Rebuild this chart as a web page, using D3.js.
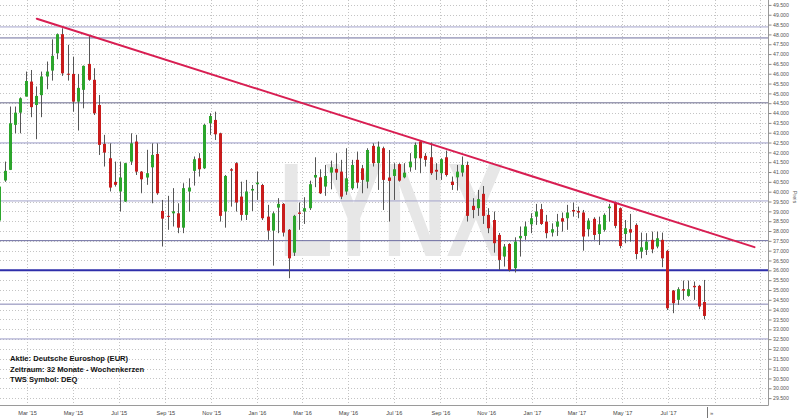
<!DOCTYPE html>
<html><head><meta charset="utf-8">
<script src="https://cdn.jsdelivr.net/npm/d3@7"></script>
<style>body{margin:0;background:#fff}svg{display:block}text{font-family:"Liberation Sans",Arial,sans-serif}</style>
</head><body><svg id="c" width="800" height="420"></svg>
<script>
// ---- data: weekly candles Deutsche Euroshop ----
const firstWeek = "2015-01-23";
const open  = [38.53,40.57,41.11,43.40,44.02,44.84,45.60,44.41,44.91,45.86,46.16,47.04,48.01,46.00,45.99,44.58,45.18,46.50,45.69,44.41,42.43,41.70,40.50,40.01,39.50,41.53,42.55,41.02,40.72,41.24,41.92,39.02,38.77,38.90,38.90,38.17,40.01,41.06,41.70,41.19,43.48,43.65,42.97,38.99,41.14,41.45,39.75,38.82,40.06,40.38,40.34,38.73,38.02,39.19,39.38,38.06,36.90,38.94,38.99,39.16,40.72,40.73,40.26,40.97,41.16,41.02,40.01,40.17,41.62,41.19,40.51,42.33,41.45,42.21,40.72,40.80,41.40,40.73,41.24,41.70,42.55,41.82,41.75,41.11,40.94,41.75,40.51,40.73,40.97,41.36,39.28,39.16,39.89,38.82,38.56,37.80,36.70,37.34,36.11,37.63,37.75,38.34,38.73,39.11,38.48,37.92,38.22,38.65,38.65,39.07,39.02,38.94,38.09,38.62,37.85,38.06,39.16,39.45,39.16,37.85,38.09,38.31,36.95,37.04,37.55,37.21,37.55,36.99,34.97,34.50,35.04,34.70,35.21,35.21,34.39];
const high  = [40.40,41.53,44.33,44.33,44.80,46.11,46.19,45.35,46.11,46.62,47.75,48.05,48.31,47.47,46.87,45.99,46.42,47.92,46.28,44.92,42.89,42.46,41.53,41.53,41.47,42.97,42.89,41.05,42.13,42.46,42.46,39.58,39.79,40.18,39.41,40.43,40.68,41.79,41.96,43.45,43.99,44.07,43.00,40.85,41.20,41.50,40.51,40.60,40.34,41.02,40.40,39.33,38.99,39.67,39.42,38.10,38.82,39.45,39.72,40.56,41.75,41.14,41.36,41.58,41.96,41.62,42.21,41.62,42.04,41.36,42.21,42.46,42.55,42.29,42.12,41.45,41.45,41.45,41.96,42.50,42.60,41.96,42.50,41.45,41.70,42.09,40.77,41.36,41.79,41.53,39.67,40.09,40.29,39.16,38.99,37.90,37.34,37.38,37.68,38.23,38.48,38.90,39.38,39.38,38.82,38.39,38.87,38.94,39.33,39.45,39.24,39.07,38.65,38.70,38.73,38.90,39.38,39.50,39.20,38.56,38.87,38.39,37.92,37.89,37.97,37.97,37.92,37.04,35.00,35.14,35.48,35.48,35.43,35.26,35.51];
const low   = [38.30,40.50,41.10,42.97,42.97,44.84,43.79,42.67,43.79,45.21,45.65,46.74,45.89,45.65,44.07,43.11,44.24,45.64,43.90,41.87,41.28,40.01,40.26,38.99,39.48,41.36,40.85,39.92,40.35,39.41,39.84,37.21,38.06,38.23,37.89,37.89,38.99,40.31,40.77,41.15,42.89,42.63,38.48,38.17,39.24,38.99,38.53,38.56,39.02,39.58,38.56,37.55,36.24,37.89,37.72,35.60,36.73,38.06,38.36,39.07,40.23,39.88,39.79,40.12,40.60,39.62,39.84,40.09,40.17,39.92,40.17,41.28,40.09,39.07,38.48,39.58,40.51,40.68,41.02,41.11,40.94,41.28,40.85,40.60,40.60,40.77,40.09,40.06,40.77,38.48,38.65,38.77,38.36,37.89,36.90,36.02,36.19,35.94,35.89,36.70,37.55,37.89,38.31,38.31,37.63,37.72,37.75,37.97,38.06,38.73,38.65,37.00,37.72,37.55,37.29,37.97,38.48,38.14,37.12,37.38,37.46,36.56,36.61,36.78,36.87,37.12,36.16,33.98,33.82,34.24,34.50,34.66,34.50,34.02,33.51];
const close = [40.26,41.06,43.48,44.02,44.75,45.63,44.30,44.87,45.86,46.11,46.91,48.01,46.02,45.95,44.58,45.28,46.40,45.69,43.99,42.38,41.99,40.21,40.35,40.72,41.45,42.46,41.02,40.63,40.94,41.87,39.92,38.63,38.72,39.00,38.17,40.18,40.21,41.65,41.14,43.40,43.85,42.92,38.77,40.80,41.07,39.45,38.82,40.01,40.14,40.46,38.65,38.02,38.90,39.38,37.92,36.61,38.77,38.87,39.16,40.38,40.85,39.92,40.80,41.24,40.97,39.75,40.68,41.36,40.46,40.60,42.12,41.45,42.29,40.60,40.55,41.14,40.56,40.97,41.53,42.38,41.70,41.62,40.94,41.02,41.65,40.85,40.34,41.02,41.36,38.77,39.07,39.62,38.77,38.14,37.38,36.53,37.21,36.02,37.46,37.75,38.23,38.65,38.99,38.36,37.89,38.09,38.48,38.48,38.94,38.99,38.94,37.72,38.53,37.80,38.34,38.82,39.24,38.26,37.24,38.14,37.92,36.83,37.17,37.46,37.07,37.63,36.61,34.07,34.33,35.04,34.97,35.04,35.14,34.16,33.68];

const yTickValues = [29.5,30,30.5,31,31.5,32,32.5,33,33.5,34,34.5,35,35.5,36,36.5,37,37.5,38,38.5,39,39.5,40,40.5,41,41.5,42,42.5,43,43.5,44,44.5,45,45.5,46,46.5,47,47.5,48,48.5,49,49.5];
const xTickDates  = ["2015-03-01","2015-05-01","2015-07-01","2015-09-01","2015-11-01","2016-01-01","2016-03-01","2016-05-01","2016-07-01","2016-09-01","2016-11-01","2017-01-01","2017-03-01","2017-05-01","2017-07-01","2017-09-01","2017-11-01"];
const xTickLabels = ["Mar '15","May '15","Jul '15","Sep '15","Nov '15","Jan '16","Mar '16","May '16","Jul '16","Sep '16","Nov '16","Jan '17","Mar '17","May '17","Jul '17","",""];
const levels = [48.38,47.82,44.52,42.48,39.53,37.51,36.00,34.28,32.51];
const trendDates = ["2015-03-14","2017-10-24"];
const trendValues = [48.80,37.18];
const infoLines = ["Aktie: Deutsche Euroshop (EUR)","Zeitraum: 32 Monate - Wochenkerzen","TWS Symbol: DEQ"];
const nowDate = "2017-08-22";

// ---- styles ----
const levelStyle = [
  {c:"#a4a4cc",w:1},{c:"#6e6e9e",w:1},{c:"#6e6e90",w:1},{c:"#9c9cc8",w:1},{c:"#a4a4cc",w:1},
  {c:"#6c6ca0",w:1},{c:"#2e2eaa",w:2},{c:"#8282b2",w:1},{c:"#9c9cc8",w:1}];

const parse = d3.timeParse("%Y-%m-%d");
const W = 768, H = 405;
const svg = d3.select("#c");
const x = d3.scaleTime().domain([parse("2015-01-24"), parse("2017-11-11")]).range([0, W]);
const y = d3.scaleLinear().domain([29.15, 49.75]).range([H, 0]);

const start = parse(firstWeek);
const candles = open.map((o,i)=>({date:d3.timeDay.offset(start, 7*i), o, h:high[i], l:low[i], c:close[i]}));

svg.append("defs").append("clipPath").attr("id","clip").append("rect").attr("x",0).attr("y",0).attr("width",W).attr("height",H);
const plot = svg.append("g").attr("clip-path","url(#clip)");

// grid
plot.append("g").selectAll("line").data(yTickValues).join("line")
  .attr("x1",0).attr("x2",W).attr("y1",d=>Math.round(y(d))+0.5).attr("y2",d=>Math.round(y(d))+0.5)
  .attr("stroke","#c4c4c4").attr("stroke-dasharray","1,2");
plot.append("g").selectAll("line").data(xTickDates).join("line")
  .attr("y1",0).attr("y2",H).attr("x1",d=>Math.round(x(parse(d)))+0.5).attr("x2",d=>Math.round(x(parse(d)))+0.5)
  .attr("stroke","#c4c4c4").attr("stroke-dasharray","1,2");

// watermark
plot.append("text").attr("x",279).attr("y",256).text("LYNX")
  .attr("font-family","DejaVu Sans, sans-serif").attr("font-weight","bold").attr("font-size",133)
  .attr("textLength",226).attr("lengthAdjust","spacingAndGlyphs").attr("fill","#e7e7e7");

// levels
plot.append("g").selectAll("line").data(levels).join("line")
  .attr("x1",0).attr("x2",W).attr("y1",d=>y(d)).attr("y2",d=>y(d))
  .attr("stroke",(d,i)=>levelStyle[i].c).attr("stroke-width",(d,i)=>levelStyle[i].w);

// candles
const cg = plot.append("g").selectAll("g").data(candles).join("g");
cg.append("line").attr("x1",d=>Math.round(x(d.date))+0.5).attr("x2",d=>Math.round(x(d.date))+0.5)
  .attr("y1",d=>y(d.h)).attr("y2",d=>y(d.l)).attr("stroke","#555").attr("stroke-width",1);
cg.append("rect").attr("x",d=>Math.round(x(d.date))-1).attr("width",3)
  .attr("y",d=>y(Math.max(d.o,d.c))).attr("height",d=>Math.max(1,Math.abs(y(d.o)-y(d.c))))
  .attr("fill",d=>d.c>=d.o?"#2ca52c":"#c81c1c");

// trend line
plot.append("line")
  .attr("x1",x(parse(trendDates[0]))).attr("y1",y(trendValues[0]))
  .attr("x2",x(parse(trendDates[1]))).attr("y2",y(trendValues[1]))
  .attr("stroke","#d81e52").attr("stroke-width",2).attr("stroke-linecap","round");

// axes
svg.append("line").attr("x1",W+0.5).attr("x2",W+0.5).attr("y1",0).attr("y2",H+0.5).attr("stroke","#9a9a9a");
svg.append("line").attr("x1",0).attr("x2",W+0.5).attr("y1",H+0.5).attr("y2",H+0.5).attr("stroke","#9a9a9a");
const yAxis = svg.append("g").attr("transform",`translate(${W+0.5},0)`)
  .call(d3.axisRight(y).tickValues(yTickValues).tickFormat(d3.format(".3f")).tickSize(3).tickPadding(1.5));
yAxis.select(".domain").remove();
yAxis.selectAll("line").attr("stroke","#888");
yAxis.selectAll("text").attr("font-size",5.2).attr("fill","#555").attr("font-family","Liberation Sans, Arial, sans-serif");

const xAxis = svg.append("g").attr("transform",`translate(0,${H+0.5})`)
  .call(d3.axisBottom(x).tickValues(xTickDates.map(parse)).tickFormat((d,i)=>xTickLabels[i]).tickSize(0).tickPadding(6));
xAxis.select(".domain").remove();
xAxis.selectAll("text").attr("font-size",5.6).attr("fill","#444").attr("font-family","Liberation Sans, Arial, sans-serif");

// now marker
const nx = Math.round(x(parse(nowDate)))+0.5;
svg.append("line").attr("x1",nx).attr("x2",nx).attr("y1",H+2).attr("y2",H+13).attr("stroke","#777");
svg.append("text").attr("x",nx+2.5).attr("y",H+9.5).text("»").attr("font-size",6).attr("fill","#555");

// axis title
svg.append("text").attr("transform","translate(793,197) rotate(90)").attr("text-anchor","middle")
  .text("Preis").attr("font-size",5.6).attr("fill","#555");

// info text
svg.append("g").selectAll("text").data(infoLines).join("text")
  .attr("x",10).attr("y",(d,i)=>361+i*10.7).text(d=>d)
  .attr("font-size",7.6).attr("font-weight","bold").attr("fill","#111");
</script></body></html>
